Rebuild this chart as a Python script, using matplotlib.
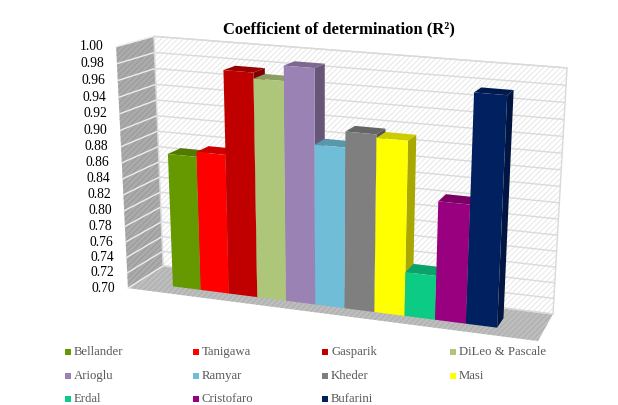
import numpy as np
import matplotlib
matplotlib.use("Agg")
import matplotlib.pyplot as plt
from matplotlib.patches import Polygon

plt.rcParams['font.family'] = ['Liberation Serif', 'DejaVu Serif']
plt.rcParams['hatch.linewidth'] = 0.5

# Data
methods = ["Bellander", "Tanigawa", "Gasparik", "DiLeo & Pascale", "Arioglu", "Ramyar",
           "Kheder", "Masi", "Erdal", "Cristofaro", "Bufarini"]
r_squared = [0.870, 0.876, 0.978, 0.971, 0.989, 0.899, 0.918, 0.914, 0.755, 0.846, 0.976]
colors = ["#669900", "#FF0000", "#C00000", "#AEC67A", "#9B82B4", "#6FBDD6",
          "#7F7F7F", "#FFFF00", "#0CCC85", "#990080", "#002060"]
y_ticks = [0.70, 0.72, 0.74, 0.76, 0.78, 0.80, 0.82, 0.84, 0.86, 0.88, 0.90, 0.92, 0.94, 0.96, 0.98, 1.00]
title = "Coefficient of determination (R²)"

Y_MIN, Y_MAX = 0.70, 1.00
MARGIN_L, MARGIN_R = 1.28, 1.42   # empty category widths on each side of the bars
X_SPAN = len(methods) + MARGIN_L + MARGIN_R
BAR_Z = (0.27, 0.63)              # depth range of the bars inside the floor

# Camera: a 3D -> page homography solved from the corners of the plot box
box_corners = [((0, 0, 0), (128, 287)), ((0, 1, 0), (116, 47)), ((1, 0, 0), (538, 342)),
               ((0, 0, 1), (163, 267)), ((0, 1, 1), (154, 36)),
               ((1, 0, 1), (553, 313)), ((1, 1, 1), (567, 68))]
rows, rhs = [], []
for (a, b, c), (px, py) in box_corners:
    rows.append([a, b, c, 1, 0, 0, 0, 0, -px * a, -px * b, -px * c]); rhs.append(px)
    rows.append([0, 0, 0, 0, a, b, c, 1, -py * a, -py * b, -py * c]); rhs.append(py)
P = np.linalg.lstsq(np.array(rows, float), np.array(rhs, float), rcond=None)[0]
P = np.append(P, 1.0).reshape(3, 4)


def project(cat, value, depth):
    """Category units, data value and 0-1 depth to page pixels."""
    v = np.array([(cat + MARGIN_L) / X_SPAN, (value - Y_MIN) / (Y_MAX - Y_MIN), depth, 1.0])
    h = P @ v
    return h[0] / h[2], h[1] / h[2]


def box_x(a, b, c):
    return project(a * X_SPAN - MARGIN_L, Y_MIN + b * (Y_MAX - Y_MIN), c)


def shade(rgb, f):
    c = np.array(matplotlib.colors.to_rgb(rgb)) * f
    return tuple(c)


fig = plt.figure(figsize=(6.18, 4.05), dpi=100, facecolor="white")
ax = fig.add_axes([0, 0, 1, 1])
ax.set_xlim(0, 618)
ax.set_ylim(405, 0)
ax.axis("off")

# Walls and floor
back = [box_x(0, 0, 1), box_x(1, 0, 1), box_x(1, 1, 1), box_x(0, 1, 1)]
left = [box_x(0, 0, 0), box_x(0, 0, 1), box_x(0, 1, 1), box_x(0, 1, 0)]
floor = [box_x(0, 0, 0), box_x(1, 0, 0), box_x(1, 0, 1), box_x(0, 0, 1)]
ax.add_patch(Polygon(back, facecolor="white", edgecolor="#DEDEDE", hatch="//////", lw=0, zorder=1))
ax.add_patch(Polygon(back, fill=False, edgecolor="#D9D9D9", lw=1.0, zorder=1.1))
ax.add_patch(Polygon(left, facecolor="#ABABAB", edgecolor="#939393", hatch="//////", lw=0, zorder=1))
ax.add_patch(Polygon(floor, facecolor="#BDBDBD", edgecolor="#A6A6A6", hatch="//////", lw=0, zorder=1))

# Gridlines on both walls, with the value labels along the front edge
for tick in y_ticks:
    b = (tick - Y_MIN) / (Y_MAX - Y_MIN)
    p0, p1, p2 = box_x(0, b, 0), box_x(0, b, 1), box_x(1, b, 1)
    ax.plot([p0[0], p1[0]], [p0[1], p1[1]], color="#EDEDED", lw=1.0, zorder=1.2)
    ax.plot([p1[0], p2[0]], [p1[1], p2[1]], color="#DADADA", lw=1.0, zorder=1.2)
    ax.text(p0[0] - 12.5, p0[1], f"{tick:.2f}", ha="right", va="center", fontsize=9.8,
            color="black", zorder=5)

# Bars, painted left to right so each front covers its neighbour's side
z0, z1 = BAR_Z
for i, (value, col) in enumerate(zip(r_squared, colors)):
    front = [project(i, Y_MIN, z0), project(i + 1, Y_MIN, z0), project(i + 1, value, z0), project(i, value, z0)]
    side = [project(i + 1, Y_MIN, z0), project(i + 1, Y_MIN, z1), project(i + 1, value, z1), project(i + 1, value, z0)]
    top = [project(i, value, z0), project(i + 1, value, z0), project(i + 1, value, z1), project(i, value, z1)]
    base = 2 + i * 0.01
    ax.add_patch(Polygon(side, facecolor=shade(col, 0.66), edgecolor="none", zorder=base))
    ax.add_patch(Polygon(top, facecolor=shade(col, 0.80), edgecolor="none", zorder=base + 0.001))
    ax.add_patch(Polygon(front, facecolor=col, edgecolor="none", zorder=base + 0.002))

ax.text(338.5, 29, title, ha="center", va="center", fontsize=12, fontweight="bold", color="black", zorder=5)

# Legend laid out in rows of four
col_x = [68, 196, 325, 453]
row_y = [352, 376, 399]
for i, (name, col) in enumerate(zip(methods, colors)):
    x, y = col_x[i % 4], row_y[i // 4]
    ax.scatter([x], [y], marker="s", s=20, color=col, linewidths=0, zorder=5)
    ax.text(x + 6, y, name, ha="left", va="center", fontsize=9.2, color="#595959", zorder=5)

fig.savefig("out.png", dpi=100)
